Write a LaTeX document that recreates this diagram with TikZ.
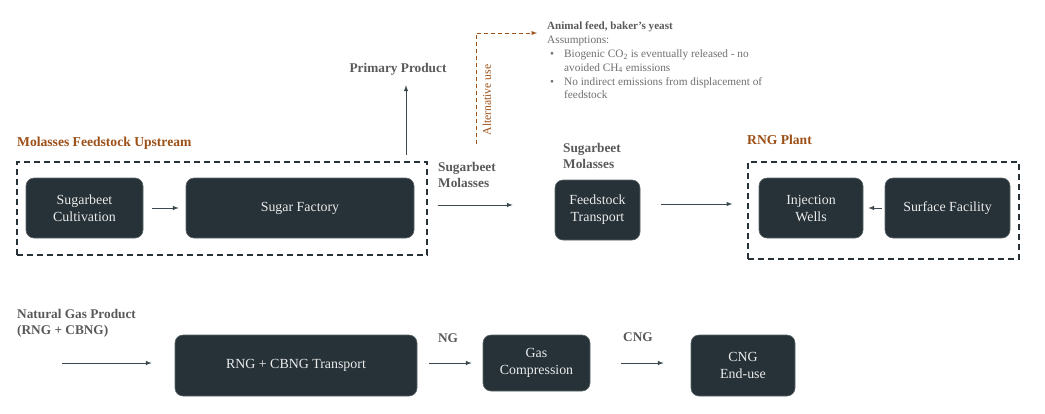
\documentclass[tikz,border=0pt]{standalone}
\usepackage{fontspec}
\setmainfont{Liberation Serif}
\usepackage{tikz}
\definecolor{boxfill}{HTML}{263238}
\definecolor{linegray}{HTML}{3C4A50}
\definecolor{titlebrown}{HTML}{9C4F16}
\definecolor{labelgray}{HTML}{595959}
\definecolor{notegray}{HTML}{6E6E6E}
\tikzset{
    stage/.style={fill=boxfill, draw=boxfill!75!white, line width=0.6pt, rounded corners=8pt,
        text=white!92!black, align=center, inner sep=0pt, font=\fontsize{13.9}{17}\selectfont},
    group/.style={draw=boxfill, dash pattern=on 6pt off 4pt, line width=1.3pt, inner sep=0pt},
    flow/.style={->, draw=linegray, line width=1pt},
    altflow/.style={->, draw=titlebrown, dash pattern=on 4pt off 3pt, line width=0.9pt},
    grouptitle/.style={anchor=west, inner sep=0pt, text=titlebrown, font=\bfseries\fontsize{13.6}{16}\selectfont},
    flowlabel/.style={inner sep=0pt, align=left, text=labelgray, font=\bfseries\fontsize{13.3}{16}\selectfont},
    notetext/.style={inner sep=0pt, align=left, text=notegray, font=\fontsize{11.3}{13.8}\selectfont},
}

\begin{document}
\begin{tikzpicture}[x=1pt, y=-1pt, >=latex]
        \useasboundingbox (0, 0) rectangle (1045, 413);
        \node[grouptitle] (uptitle) at (17, 143) {Molasses Feedstock Upstream};
        \node[group, minimum width=410pt, minimum height=93pt] (up) at (222, 208.5) {};
        \node[stage, minimum width=117pt, minimum height=60pt] (cult) at (84.5, 208) {Sugarbeet\\Cultivation};
        \node[stage, minimum width=228pt, minimum height=60pt] (factory) at (300, 208) {Sugar Factory};
        \draw[flow, shorten <=9pt, shorten >=7pt] (cult) -- (factory);
        \node[flowlabel] (prim) at (398, 69) {Primary Product};
        \coordinate (pfoot) at (406, 155);
        \draw[flow, shorten >=10pt] (pfoot) -- (pfoot |- prim.south);
        \node[flowlabel, anchor=west] (molA) at (438, 175) {Sugarbeet\\Molasses};
        \node[notetext, anchor=west, text=labelgray, font=\bfseries\fontsize{11.1}{13.6}\selectfont] (feed) at (547, 27) {Animal feed, baker's yeast};
        \node[notetext, anchor=north west] (notes) at (547, 36) {Assumptions:\\
            \hspace*{3pt}\makebox[14pt][l]{\textbullet}Biogenic CO\textsubscript{2} is eventually released - no\\
            \hspace*{17pt}avoided CH\textsubscript{4} emissions\\
            \hspace*{3pt}\makebox[14pt][l]{\textbullet}No indirect emissions from displacement of\\
            \hspace*{17pt}feedstock};
        \coordinate (altfoot) at (476, 144);
        \draw[altflow, shorten >=10pt] (altfoot) |- ([yshift=-6pt]feed.west);
        \node[notetext, rotate=90, text=titlebrown, font=\fontsize{11.6}{13.6}\selectfont] (alt) at (487, 100) {Alternative use};
        \node[flowlabel, anchor=west] (molB) at (563, 155.5) {Sugarbeet\\Molasses};
        \node[stage, minimum width=85pt, minimum height=60pt] (ftrans) at (597.5, 210) {Feedstock\\Transport};
        \draw[flow, shorten <=10pt, shorten >=42pt] ([yshift=3.5pt]up.east) -- ([yshift=3.5pt]up.east -| ftrans.west);
        \node[grouptitle] (planttitle) at (747, 140) {RNG Plant};
        \node[group, minimum width=271pt, minimum height=97pt] (plant) at (883.5, 210.5) {};
        \node[stage, minimum width=104pt, minimum height=60pt] (wells) at (811, 208) {Injection\\Wells};
        \node[stage, minimum width=125pt, minimum height=60pt] (surface) at (947.5, 208) {Surface Facility};
        \draw[flow, shorten <=21pt, shorten >=15pt] ([yshift=6pt]ftrans.east) -- ([yshift=6pt]ftrans.east -| plant.west);
        \draw[flow, shorten <=3pt, shorten >=5pt] (surface) -- (wells);
        \node[flowlabel, anchor=west] (gas) at (17, 323) {Natural Gas Product\\(RNG + CBNG)};
        \node[stage, minimum width=242pt, minimum height=61pt] (rngt) at (296, 365.5) {RNG + CBNG Transport};
        \node[stage, minimum width=107pt, minimum height=56pt] (comp) at (536.5, 363) {Gas\\Compression};
        \node[stage, minimum width=104pt, minimum height=61pt] (enduse) at (743, 365.5) {CNG\\End-use};
        \coordinate (gasin) at (62, 363);
        \draw[flow, shorten >=23pt] (gasin) -- (gasin -| rngt.west);
        \node[flowlabel] (ng) at (448, 338) {NG};
        \draw[flow, shorten <=12pt, shorten >=11pt] (rngt.east |- comp) -- (comp.west);
        \node[flowlabel] (cng) at (638, 337) {CNG};
        \draw[flow, shorten <=31pt, shorten >=27pt] (comp.east) -- (comp.east -| enduse.west);
    \end{tikzpicture}
\end{document}
